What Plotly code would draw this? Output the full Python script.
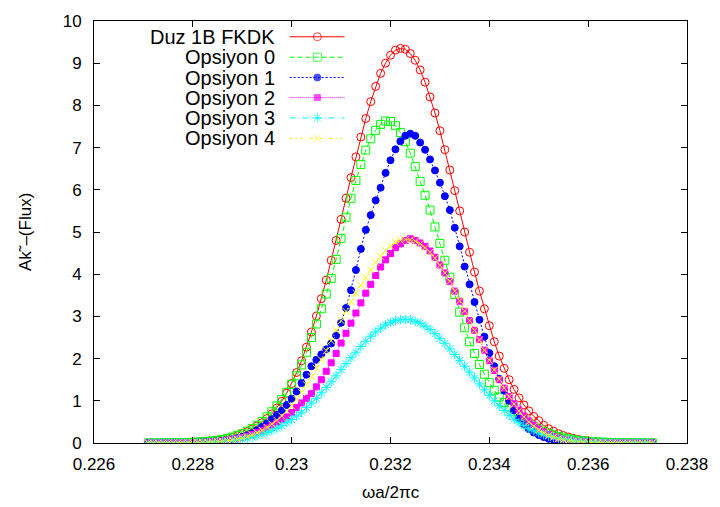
import plotly.graph_objects as go

# frequency samples (omega a / 2 pi c)
X = [0.2271, 0.2272, 0.2273, 0.2274, 0.2275, 0.2276, 0.2277, 0.2278, 0.2279, 0.2280,
     0.2281, 0.2282, 0.2283, 0.2284, 0.2285, 0.2286, 0.2287, 0.2288, 0.2289, 0.2290,
     0.2291, 0.2292, 0.2293, 0.2294, 0.2295, 0.2296, 0.2297, 0.2298, 0.2299, 0.2300,
     0.2301, 0.2302, 0.2303, 0.2304, 0.2305, 0.2306, 0.2307, 0.2308, 0.2309, 0.2310,
     0.2311, 0.2312, 0.2313, 0.2314, 0.2315, 0.2316, 0.2317, 0.2318, 0.2319, 0.2320,
     0.2321, 0.2322, 0.2323, 0.2324, 0.2325, 0.2326, 0.2327, 0.2328, 0.2329, 0.2330,
     0.2331, 0.2332, 0.2333, 0.2334, 0.2335, 0.2336, 0.2337, 0.2338, 0.2339, 0.2340,
     0.2341, 0.2342, 0.2343, 0.2344, 0.2345, 0.2346, 0.2347, 0.2348, 0.2349, 0.2350,
     0.2351, 0.2352, 0.2353, 0.2354, 0.2355, 0.2356, 0.2357, 0.2358, 0.2359, 0.2360,
     0.2361, 0.2362, 0.2363, 0.2364, 0.2365, 0.2366, 0.2367, 0.2368, 0.2369, 0.2370,
     0.2371, 0.2372, 0.2373]

DUZ = [0.001, 0.001, 0.002, 0.002, 0.003, 0.004, 0.006, 0.008, 0.011, 0.015,
       0.02, 0.027, 0.036, 0.048, 0.062, 0.08, 0.105, 0.135, 0.17, 0.22,
       0.27, 0.33, 0.4, 0.48, 0.58, 0.69, 0.83, 0.99, 1.18, 1.41,
       1.67, 1.95, 2.27, 2.63, 3.01, 3.42, 3.86, 4.33, 4.8, 5.3,
       5.8, 6.29, 6.78, 7.25, 7.69, 8.09, 8.45, 8.76, 9.0, 9.19,
       9.31, 9.35, 9.33, 9.23, 9.07, 8.84, 8.55, 8.2, 7.82, 7.4,
       6.95, 6.47, 5.98, 5.5, 5.0, 4.52, 4.05, 3.6, 3.18, 2.78,
       2.4, 2.06, 1.77, 1.5, 1.27, 1.07, 0.9, 0.76, 0.63, 0.53,
       0.42, 0.34, 0.28, 0.22, 0.175, 0.14, 0.11, 0.085, 0.065, 0.05,
       0.038, 0.028, 0.021, 0.016, 0.012, 0.009, 0.006, 0.004, 0.003, 0.002,
       0.002, 0.001, 0.001]

OPS0 = [0.001, 0.002, 0.002, 0.003, 0.004, 0.006, 0.008, 0.01, 0.013, 0.017,
        0.023, 0.03, 0.04, 0.05, 0.065, 0.085, 0.11, 0.14, 0.18, 0.22,
        0.28, 0.34, 0.42, 0.51, 0.62, 0.74, 0.88, 1.03, 1.2, 1.39,
        1.59, 1.85, 2.15, 2.5, 2.82, 3.18, 3.53, 3.9, 4.35, 4.85,
        5.35, 5.8, 6.22, 6.6, 6.94, 7.21, 7.41, 7.55, 7.63, 7.62,
        7.52, 7.36, 7.14, 6.87, 6.55, 6.2, 5.87, 5.52, 5.12, 4.73,
        4.33, 3.93, 3.52, 3.1, 2.73, 2.4, 2.12, 1.86, 1.63, 1.43,
        1.25, 1.09, 0.96, 0.85, 0.74, 0.64, 0.55, 0.47, 0.4, 0.33,
        0.28, 0.23, 0.19, 0.15, 0.12, 0.1, 0.08, 0.06, 0.05, 0.04,
        0.03, 0.025, 0.02, 0.015, 0.012, 0.01, 0.008, 0.006, 0.005, 0.004,
        0.003, 0.002, 0.002]

OPS1 = [0.0, 0.001, 0.001, 0.001, 0.002, 0.002, 0.003, 0.004, 0.006, 0.008,
        0.011, 0.015, 0.02, 0.028, 0.038, 0.05, 0.065, 0.085, 0.11, 0.14,
        0.18, 0.23, 0.3, 0.38, 0.46, 0.56, 0.66, 0.77, 0.9, 1.05,
        1.22, 1.42, 1.62, 1.82, 1.97, 2.1, 2.22, 2.36, 2.55, 2.85,
        3.2, 3.62, 4.1, 4.6, 5.05, 5.4, 5.75, 6.05, 6.4, 6.7,
        6.96, 7.15, 7.28, 7.33, 7.28, 7.12, 6.95, 6.72, 6.46, 6.17,
        5.85, 5.52, 5.1, 4.66, 4.18, 3.76, 3.34, 2.92, 2.52, 2.13,
        1.82, 1.52, 1.24, 1.0, 0.77, 0.58, 0.44, 0.33, 0.25, 0.19,
        0.14, 0.1, 0.075, 0.055, 0.04, 0.03, 0.022, 0.016, 0.012, 0.009,
        0.007, 0.005, 0.004, 0.003, 0.002, 0.002, 0.001, 0.001, 0.001, 0.0,
        0.0, 0.0, 0.0]

OPS2 = [0.0, 0.0, 0.001, 0.001, 0.002, 0.002, 0.003, 0.004, 0.005, 0.007,
        0.01, 0.013, 0.018, 0.025, 0.034, 0.045, 0.06, 0.08, 0.1, 0.13,
        0.16, 0.2, 0.25, 0.3, 0.36, 0.42, 0.48, 0.55, 0.62, 0.72,
        0.84, 0.95, 1.06, 1.17, 1.33, 1.5, 1.7, 1.9, 2.12, 2.37,
        2.6, 2.84, 3.08, 3.32, 3.55, 3.76, 3.97, 4.17, 4.34, 4.49,
        4.63, 4.72, 4.8, 4.84, 4.8, 4.74, 4.66, 4.55, 4.4, 4.22,
        4.03, 3.83, 3.6, 3.36, 3.12, 2.9, 2.67, 2.45, 2.2, 1.95,
        1.72, 1.5, 1.3, 1.1, 0.93, 0.78, 0.64, 0.52, 0.42, 0.33,
        0.26, 0.2, 0.15, 0.115, 0.085, 0.065, 0.048, 0.035, 0.026, 0.019,
        0.014, 0.01, 0.007, 0.005, 0.004, 0.003, 0.002, 0.002, 0.001, 0.001,
        0.0, 0.0, 0.0]

OPS3 = [0.0, 0.0, 0.001, 0.001, 0.001, 0.002, 0.003, 0.004, 0.005, 0.007,
        0.01, 0.013, 0.017, 0.022, 0.029, 0.037, 0.047, 0.06, 0.075, 0.094,
        0.115, 0.14, 0.17, 0.205, 0.25, 0.295, 0.35, 0.41, 0.48, 0.555,
        0.64, 0.73, 0.84, 0.95, 1.06, 1.19, 1.32, 1.45, 1.59, 1.74,
        1.88, 2.02, 2.15, 2.29, 2.41, 2.53, 2.63, 2.72, 2.8, 2.86,
        2.9, 2.92, 2.93, 2.92, 2.88, 2.84, 2.77, 2.69, 2.59, 2.48,
        2.36, 2.23, 2.1, 1.96, 1.82, 1.68, 1.54, 1.4, 1.26, 1.13,
        1.0, 0.88, 0.77, 0.66, 0.56, 0.48, 0.41, 0.34, 0.29, 0.24,
        0.2, 0.165, 0.135, 0.11, 0.09, 0.072, 0.058, 0.046, 0.036, 0.028,
        0.022, 0.017, 0.013, 0.01, 0.008, 0.006, 0.004, 0.003, 0.002, 0.002,
        0.001, 0.001, 0.0]

OPS4 = [0.0, 0.0, 0.001, 0.001, 0.002, 0.002, 0.003, 0.004, 0.005, 0.007,
        0.01, 0.013, 0.018, 0.024, 0.032, 0.042, 0.055, 0.07, 0.09, 0.12,
        0.15, 0.19, 0.24, 0.3, 0.37, 0.45, 0.54, 0.64, 0.76, 0.88,
        1.04, 1.2, 1.38, 1.57, 1.77, 1.97, 2.19, 2.42, 2.67, 2.9,
        3.12, 3.35, 3.55, 3.74, 3.92, 4.1, 4.28, 4.42, 4.56, 4.67,
        4.75, 4.8, 4.82, 4.81, 4.78, 4.72, 4.63, 4.52, 4.38, 4.21,
        4.03, 3.83, 3.6, 3.37, 3.13, 2.9, 2.67, 2.44, 2.2, 1.96,
        1.73, 1.51, 1.3, 1.1, 0.92, 0.76, 0.62, 0.5, 0.4, 0.31,
        0.24, 0.18, 0.14, 0.1, 0.075, 0.055, 0.04, 0.03, 0.022, 0.016,
        0.012, 0.009, 0.006, 0.005, 0.003, 0.002, 0.002, 0.001, 0.001, 0.0,
        0.0, 0.0, 0.0]

NAMES = ["Duz 1B FKDK", "Opsiyon 0", "Opsiyon 1", "Opsiyon 2", "Opsiyon 3", "Opsiyon 4"]
SERIES = [DUZ, OPS0, OPS1, OPS2, OPS3, OPS4]
X_TICKS = [0.226, 0.228, 0.230, 0.232, 0.234, 0.236, 0.238]
X_TICKTEXT = ["0.226", "0.228", "0.23", "0.232", "0.234", "0.236", "0.238"]
Y_TICKS = list(range(0, 11))

STYLES = [
    dict(color="#ff0000", dash="solid", symbol="circle-open", size=8),
    dict(color="#00ff00", dash="5px,3px", symbol="square-open", size=8),
    dict(color="#0000ff", dash="2px,2px", symbol="circle", size=7),
    dict(color="#ff00ff", dash="1px,1px", symbol="square", size=6),
    dict(color="#00ffff", dash="6px,3px,1px,3px", symbol="asterisk-open", size=8),
    dict(color="#ffff00", dash="3px,3px,1px,3px", symbol="x-thin-open", size=7),
]

FONT = "Liberation Sans, Arial, sans-serif"

fig = go.Figure()
for name, ys, st in zip(NAMES, SERIES, STYLES):
    fig.add_trace(go.Scatter(
        x=X, y=ys, mode="lines+markers", name=name, showlegend=False,
        line=dict(color=st["color"], width=1, dash=st["dash"]),
        marker=dict(symbol=st["symbol"], size=st["size"], color=st["color"],
                    line=dict(color=st["color"], width=1)),
    ))

# custom gnuplot-style key on an overlay axis measured in pixels
ROWS = [31, 51.7, 72.3, 92.7, 113.3, 134]
for name, st, r in zip(NAMES, STYLES, ROWS):
    fig.add_trace(go.Scatter(
        x=[290, 317.7, 345], y=[r, r, r], xaxis="x2", yaxis="y2",
        mode="lines+markers", showlegend=False, hoverinfo="skip",
        line=dict(color=st["color"], width=1, dash=st["dash"]),
        marker=dict(symbol=st["symbol"], size=[0, st["size"], 0], color=st["color"],
                    line=dict(color=st["color"], width=1)),
    ))
    fig.add_annotation(x=277, y=r, xref="x2", yref="y2", text=name, showarrow=False,
                       xanchor="right", yanchor="middle",
                       font=dict(family=FONT, size=20, color="black"))

fig.add_annotation(x=0.5, y=-0.1168, xref="paper", yref="paper", text="ωa/2πc", showarrow=False,
                   xanchor="center", yanchor="middle", font=dict(family=FONT, size=17, color="black"))
fig.add_annotation(x=-0.1162, y=0.5, xref="paper", yref="paper", text="Ak˜–(Flux)", showarrow=False,
                   textangle=-90, xanchor="center", yanchor="middle",
                   font=dict(family=FONT, size=17, color="black"))

fig.update_layout(
    width=720, height=507,
    margin=dict(l=94, r=32, t=15, b=64),
    paper_bgcolor="white", plot_bgcolor="white",
    font=dict(family=FONT, size=17, color="black"),
    xaxis=dict(range=[0.226, 0.238], tickvals=X_TICKS, ticktext=X_TICKTEXT,
               ticks="inside", ticklen=6, tickcolor="black", showline=True, linecolor="black",
               linewidth=1, mirror="ticks", showgrid=False, zeroline=False,
               ticklabelstandoff=6),
    yaxis=dict(range=[0, 10], tickvals=Y_TICKS, ticks="inside", ticklen=6, tickcolor="black",
               showline=True, linecolor="black", linewidth=1, mirror="ticks",
               showgrid=False, zeroline=False, ticklabelstandoff=8),
    xaxis2=dict(range=[94, 688], overlaying="x", anchor="y2", visible=False),
    yaxis2=dict(range=[443, 15], overlaying="y", anchor="x2", visible=False),
)

fig.write_html("out.html", config={"displayModeBar": False},
               post_script="document.body.style.margin='0';document.body.style.overflow='hidden';")
